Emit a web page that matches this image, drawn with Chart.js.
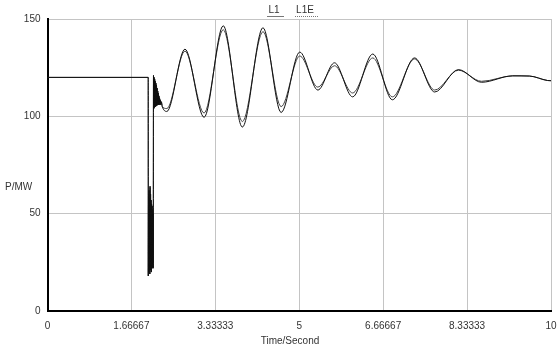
<!DOCTYPE html>
<html>
<head>
<meta charset="utf-8">
<script src="https://cdn.jsdelivr.net/npm/chart.js@4.4.1/dist/chart.umd.min.js"></script>
<style>
  html, body { margin: 0; padding: 0; background: #fff; }
  #wrap { width: 557px; height: 348px; }
</style>
</head>
<body>
<div id="wrap"><canvas id="c" width="557" height="348"></canvas></div>
<script>
// tick values / labels
const xTicks = [0, 1.66667, 3.33333, 5, 6.66667, 8.33333, 10];
const xTickLabels = ['0', '1.66667', '3.33333', '5', '6.66667', '8.33333', '10'];
const yTicks = [0, 50, 100, 150];

// sample times (s)
const timeS = [
    0, 2.0,
    2.002, 2.007, 2.012, 2.017, 2.022, 2.027, 2.032, 2.037, 2.042, 2.047,
    2.052, 2.057, 2.062, 2.067, 2.072, 2.077, 2.082, 2.087, 2.092, 2.097, 2.100,
    2.105, 2.111, 2.117, 2.123, 2.129, 2.135, 2.141, 2.147, 2.153, 2.159, 2.165, 2.171,
    2.177, 2.183, 2.189, 2.195, 2.201, 2.207, 2.213, 2.219, 2.225, 2.231, 2.24, 2.25, 2.26, 2.28,
    2.37, 2.73, 3.11, 3.49, 3.87, 4.28, 4.64, 5.01, 5.37, 5.70, 6.06, 6.46, 6.85,
    7.29, 7.69, 8.16, 8.62, 9.24, 9.57, 9.93, 10
];
// fault + post-fault swing, same for both traces
const faultP = [
    120, 120,
    18, 60, 20, 62, 22, 58, 19, 64, 21, 60,
    24, 57, 20, 55, 23, 54, 22, 52, 25, 50, 22,
    121, 104, 120, 104.5, 119, 105, 118, 105, 117, 105.5, 116, 105.5,
    114.5, 106, 113, 106, 112, 106, 110.5, 106, 109.5, 106, 108.5, 106, 107.5, 105
];
// P/MW after the fault
const l1P = [
    102.5, 134.5, 99.5, 146.5, 94.5, 145.5, 102, 133, 113.5, 127.5, 110, 132, 108.5,
    130, 112.5, 124, 117.5, 120.8, 120.7, 118.4, 118.3
];
const l1eP = [
    104, 133.5, 101.7, 144.5, 97.3, 143.5, 105, 131, 115, 126, 112, 130, 110,
    129.5, 113.5, 123.7, 118, 120.8, 120.7, 118.4, 118.3
];

function pts(vals) {
    const all = faultP.concat(vals);
    return timeS.map((t, i) => ({ x: t, y: all[i] }));
}

// legend + axis titles drawn straight on the canvas
const extraText = {
    id: 'extraText',
    afterDraw(chart) {
        const ctx = chart.ctx;
        ctx.save();
        ctx.font = '10px "Liberation Sans", Arial, sans-serif';
        ctx.fillStyle = '#333';
        ctx.textBaseline = 'middle';
        ctx.textAlign = 'center';
        ctx.fillText('L1', 274, 10);
        ctx.fillText('L1E', 305, 10);
        ctx.strokeStyle = '#777';
        ctx.lineWidth = 1;
        ctx.beginPath();
        ctx.moveTo(267, 16.5);
        ctx.lineTo(284, 16.5);
        ctx.stroke();
        ctx.setLineDash([1, 1]);
        ctx.beginPath();
        ctx.moveTo(295, 16.5);
        ctx.lineTo(318, 16.5);
        ctx.stroke();
        ctx.setLineDash([]);
        ctx.textAlign = 'left';
        ctx.fillText('P/MW', 5, 187);
        ctx.textAlign = 'center';
        ctx.fillText('Time/Second', 290, 341);
        ctx.restore();
    }
};

const tickFont = { family: '"Liberation Sans", Arial, sans-serif', size: 10 };

new Chart(document.getElementById('c'), {
    type: 'line',
    data: {
        datasets: [
            {
                label: 'L1',
                data: pts(l1P),
                borderColor: '#111',
                borderWidth: 1,
                pointRadius: 0,
                cubicInterpolationMode: 'monotone',
            },
            {
                label: 'L1E',
                data: pts(l1eP),
                borderColor: '#444',
                borderWidth: 1,
                pointRadius: 0,
                cubicInterpolationMode: 'monotone',
            }
        ]
    },
    options: {
        responsive: false,
        animation: false,
        layout: { padding: { left: 0, right: 6, top: 19, bottom: 0 } },
        plugins: {
            legend: { display: false },
            tooltip: { enabled: false },
        },
        scales: {
            x: {
                type: 'linear',
                min: 0,
                max: 10,
                afterBuildTicks: (s) => { s.ticks = xTicks.map(v => ({ value: v })); },
                afterFit: (s) => { s.height = 37; s.paddingLeft = 0; s.paddingRight = 0; },
                ticks: {
                    font: tickFont,
                    color: '#333',
                    padding: 9,
                    maxRotation: 0,
                    autoSkip: false,
                    callback: (v, i) => xTickLabels[i],
                },
                grid: { color: '#c4c4c4', lineWidth: 1, drawTicks: false },
                border: { color: '#000', width: 2 },
            },
            y: {
                min: 0,
                max: 150,
                afterBuildTicks: (s) => { s.ticks = yTicks.map(v => ({ value: v })); },
                afterFit: (s) => { s.width = 47.5; s.paddingTop = 0; s.paddingBottom = 0; },
                ticks: {
                    font: tickFont,
                    color: '#333',
                    padding: 7,
                },
                grid: { color: '#c4c4c4', lineWidth: 1, drawTicks: false },
                border: { color: '#000', width: 2 },
            }
        }
    },
    plugins: [extraText]
});
</script>
</body>
</html>
